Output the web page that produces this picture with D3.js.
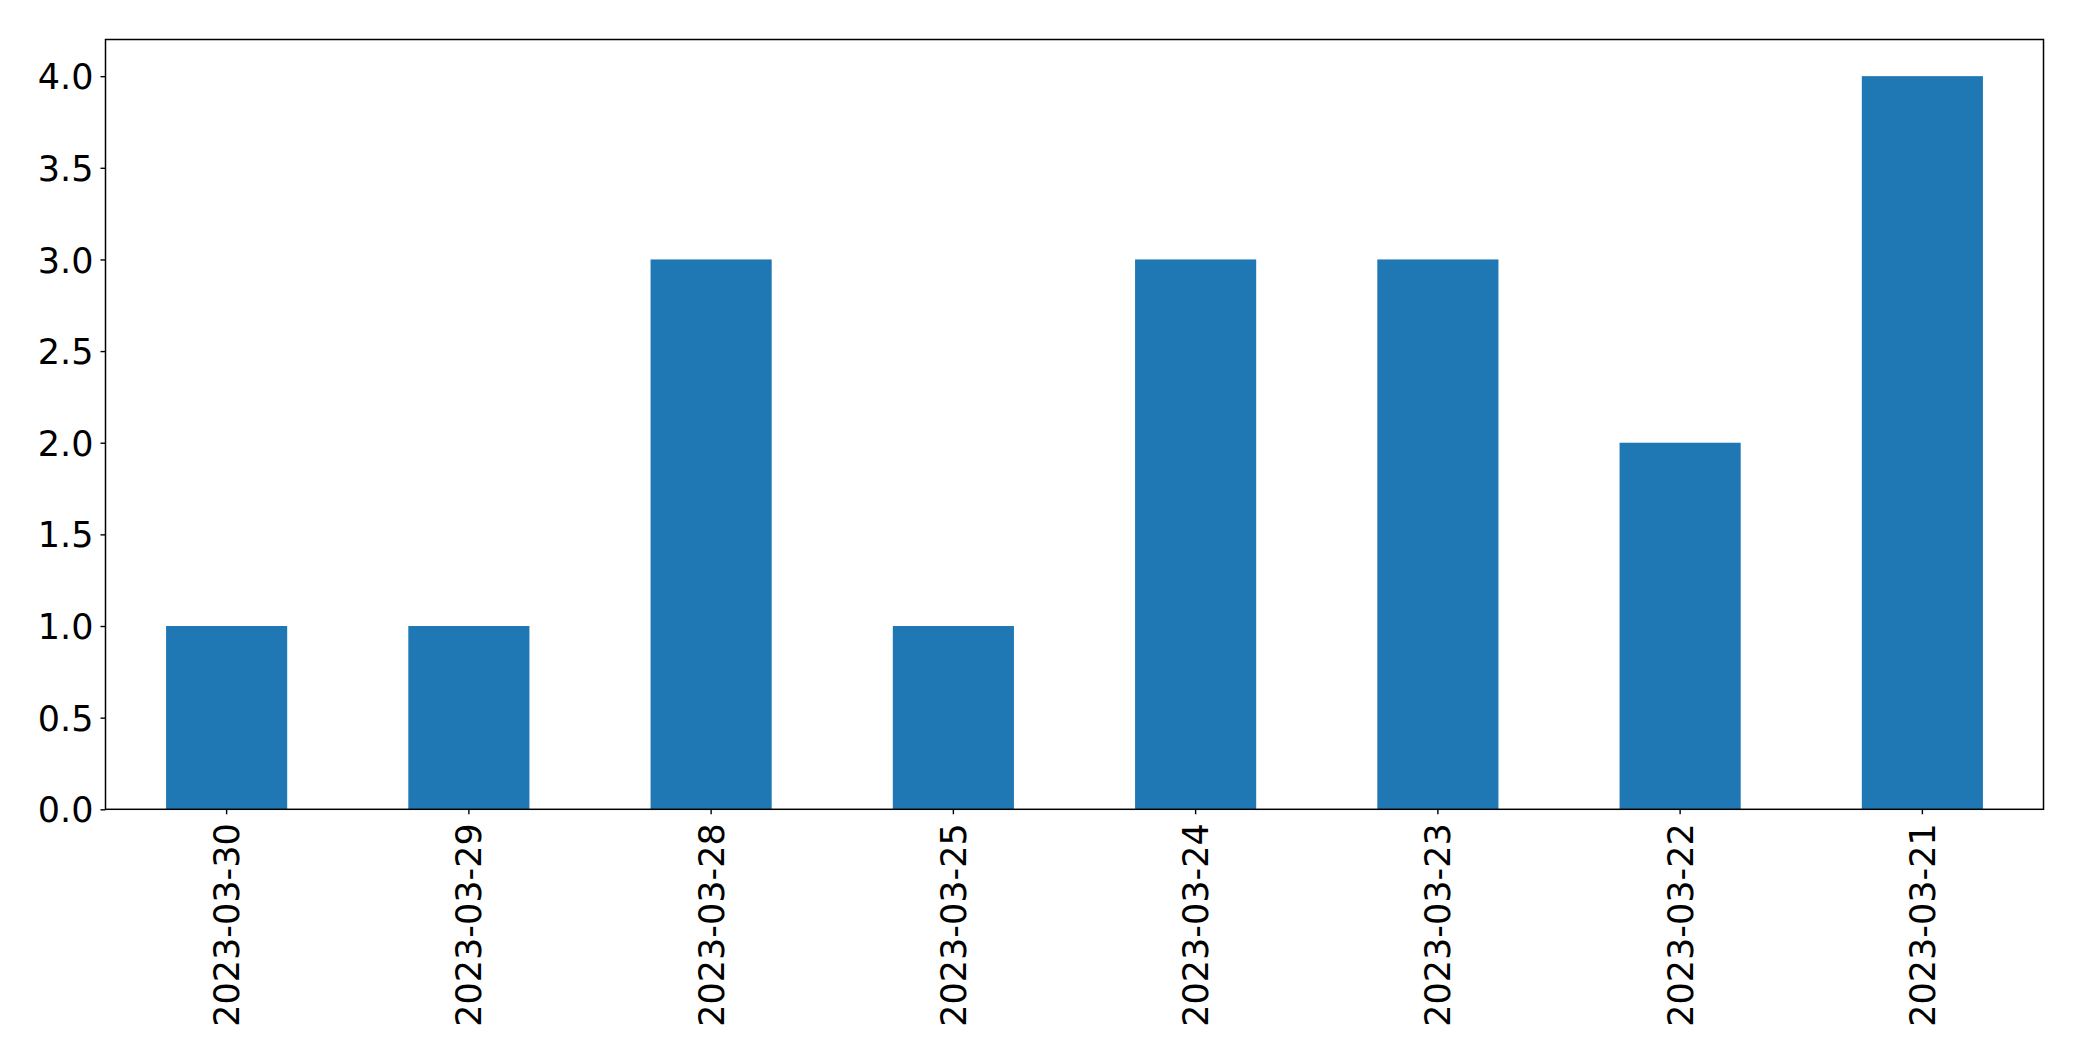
<!DOCTYPE html>
<html>
<head>
<meta charset="utf-8">
<script src="https://cdn.jsdelivr.net/npm/d3@7"></script>
<style>
  html, body { margin: 0; padding: 0; background: #fff; }
  svg { display: block; }
  text { font-family: "DejaVu Sans", sans-serif; fill: #000; }
</style>
</head>
<body>
<script>
const categories = ["2023-03-30", "2023-03-29", "2023-03-28", "2023-03-25", "2023-03-24", "2023-03-23", "2023-03-22", "2023-03-21"];
const values = [1, 1, 3, 1, 3, 3, 2, 4];
const yTicks = [0, 0.5, 1, 1.5, 2, 2.5, 3, 3.5, 4];

const W = 2082, H = 1061;
const mLeft = 105.5, mRight = 2043.5, mTop = 39.5, mBottom = 809.3;

const svg = d3.select("body").append("svg").attr("width", W).attr("height", H);

const x = d3.scaleBand().domain(categories).range([mLeft, mRight]).paddingInner(0.5).paddingOuter(0.25);
const y = d3.scaleLinear().domain([0, 4.2]).range([mBottom, mTop]);

svg.append("g").selectAll("rect").data(values).join("rect")
  .attr("x", (d, i) => x(categories[i]))
  .attr("width", x.bandwidth())
  .attr("y", d => y(d))
  .attr("height", d => y(0) - y(d))
  .attr("fill", "#1f77b4");

const fs = 35;
const yAxis = svg.append("g").attr("transform", `translate(${mLeft},0)`)
  .call(d3.axisLeft(y).tickValues(yTicks).tickFormat(d3.format(".1f")).tickSize(5).tickPadding(7));
yAxis.select(".domain").remove();
yAxis.selectAll("line").attr("stroke", "#000").attr("stroke-width", 1.4);
yAxis.selectAll("text").style("font-size", fs + "px").style("font-family", "DejaVu Sans").attr("dy", "0.36em");

const xAxis = svg.append("g").attr("transform", `translate(0,${mBottom})`)
  .call(d3.axisBottom(x).tickSize(5).tickPadding(0));
xAxis.select(".domain").remove();
xAxis.selectAll("line").attr("stroke", "#000").attr("stroke-width", 1.4);
xAxis.selectAll("text")
  .style("font-size", fs + "px").style("font-family", "DejaVu Sans")
  .attr("text-anchor", "end")
  .attr("transform", "rotate(-90)")
  .attr("x", -14).attr("y", 0).attr("dy", "0.36em");

svg.append("rect").attr("x", mLeft).attr("y", mTop)
  .attr("width", mRight - mLeft).attr("height", mBottom - mTop)
  .attr("fill", "none").attr("stroke", "#000").attr("stroke-width", 1.5);
</script>
</body>
</html>
